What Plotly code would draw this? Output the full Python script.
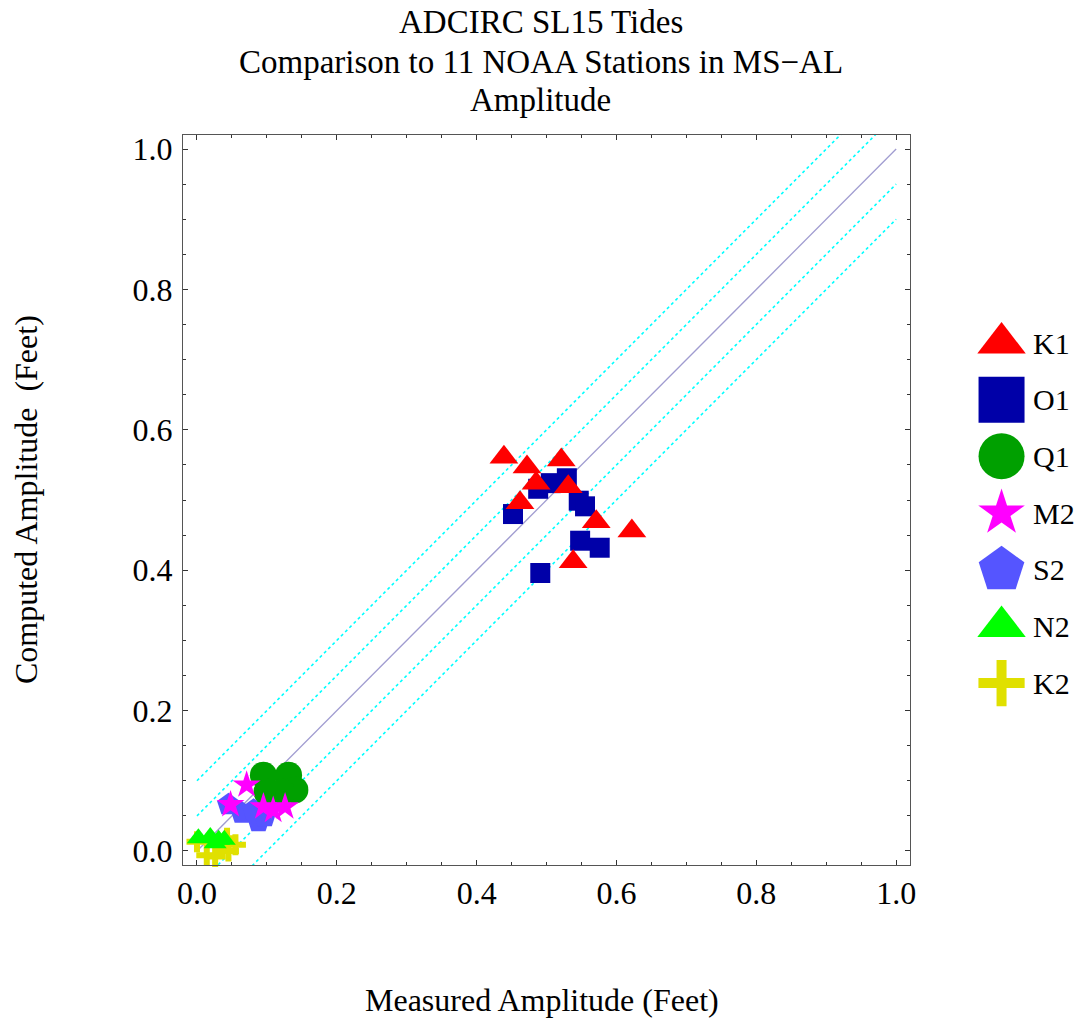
import plotly.graph_objects as go

# ---------------- data ----------------
series_names = ["K1", "O1", "Q1", "M2", "S2", "N2", "K2"]

K1_x = [0.439, 0.472, 0.521, 0.485, 0.531, 0.462, 0.571, 0.622, 0.538]
K1_y = [0.561, 0.547, 0.557, 0.524, 0.519, 0.496, 0.469, 0.456, 0.412]

O1_x = [0.452, 0.488, 0.506, 0.529, 0.546, 0.555, 0.548, 0.576, 0.491]
O1_y = [0.480, 0.516, 0.524, 0.531, 0.499, 0.491, 0.442, 0.432, 0.396]

Q1_x = [0.095, 0.131, 0.140, 0.100, 0.121]
Q1_y = [0.108, 0.108, 0.087, 0.084, 0.084]

M2_x = [0.071, 0.048, 0.109, 0.126, 0.095]
M2_y = [0.094, 0.066, 0.058, 0.063, 0.063]

S2_x = [0.045, 0.064, 0.088, 0.097, 0.081]
S2_y = [0.066, 0.054, 0.042, 0.049, 0.058]

N2_x = [0.002, 0.019, 0.031, 0.026, 0.039]
N2_y = [0.018, 0.020, 0.016, 0.011, 0.016]

K2_x = [0.000, 0.043, 0.055, 0.026, 0.014, 0.045]
K2_y = [0.013, 0.018, 0.009, -0.008, -0.006, 0.000]

ref_x = [0.0, 1.0]
band_offsets = [0.1, 0.05, -0.05, -0.1]

tick_vals = [0.0, 0.2, 0.4, 0.6, 0.8, 1.0]
tick_text = ["0.0", "0.2", "0.4", "0.6", "0.8", "1.0"]

title_lines = ["ADCIRC SL15 Tides", "Comparison to 11 NOAA Stations in MS\u2212AL", "Amplitude"]
x_title = "Measured Amplitude (Feet)"
y_title = "Computed Amplitude  (Feet)"

# ---------------- styles ----------------
FONT = "Liberation Serif, Times New Roman, serif"
colors = {"K1": "#FF0000", "O1": "#0000A8", "Q1": "#00A000", "M2": "#FF00FF",
          "S2": "#5555FF", "N2": "#00FF00", "K2": "#E0E000"}
symbols = {"K1": "triangle-up", "O1": "square", "Q1": "circle", "M2": "star",
           "S2": "pentagon", "N2": "triangle-up", "K2": "cross-thin"}
plot_sizes = {"K1": 25, "O1": 20, "Q1": 27, "M2": 21, "S2": 24, "N2": 20, "K2": 15}
legend_sizes = {"K1": 42, "O1": 46, "Q1": 46, "M2": 35, "S2": 48, "N2": 42, "K2": 33}
cross_widths = {"plot": 6, "legend": 10}

data = {"K1": (K1_x, K1_y), "O1": (O1_x, O1_y), "Q1": (Q1_x, Q1_y),
        "M2": (M2_x, M2_y), "S2": (S2_x, S2_y), "N2": (N2_x, N2_y),
        "K2": (K2_x, K2_y)}


def marker_for(name, size, where):
    if symbols[name] == "cross-thin":
        return dict(symbol="cross-thin", size=size, color=colors[name],
                    line=dict(color=colors[name], width=cross_widths[where]))
    return dict(symbol=symbols[name], size=size, color=colors[name], line=dict(width=0))


fig = go.Figure()

# reference lines
for off in band_offsets:
    fig.add_trace(go.Scatter(x=ref_x, y=[v + off for v in ref_x], mode="lines",
                             line=dict(color="#00FFFF", width=1.6, dash="dot"),
                             hoverinfo="skip", showlegend=False))
fig.add_trace(go.Scatter(x=ref_x, y=ref_x, mode="lines",
                         line=dict(color="#A09CD0", width=1.3),
                         hoverinfo="skip", showlegend=False))

# data series
draw_order = ["K2", "N2", "S2", "Q1", "M2", "O1", "K1"]
for name in draw_order:
    xs, ys = data[name]
    fig.add_trace(go.Scatter(x=xs, y=ys, mode="markers", name=name,
                             marker=marker_for(name, plot_sizes[name], "plot"),
                             showlegend=False, cliponaxis=False))

W, H = 1088, 1023
ML, MR, MT, MB = 183, 0, 135, 158
plot_w = 732
plot_h = H - MT - MB
paper_w = W - ML - MR

# custom legend (large symbols) in a side axis
LEG_LEFT = 984
for i, name in enumerate(series_names):
    fig.add_trace(go.Scatter(x=[1007 - LEG_LEFT], y=[i], mode="markers", xaxis="x2", yaxis="y2",
                             marker=marker_for(name, legend_sizes[name], "legend"),
                             showlegend=False, hoverinfo="skip", cliponaxis=False))
    fig.add_annotation(x=1037 - LEG_LEFT, y=i, xref="x2", yref="y2", text=name, showarrow=False,
                       xanchor="left", yanchor="middle",
                       font=dict(family=FONT, size=30, color="black"))

axis_common = dict(range=[-0.02, 1.02], showgrid=False, zeroline=False,
                   showline=True, linecolor="#555555", linewidth=1, mirror="ticks",
                   ticks="inside", ticklen=5, tickwidth=1, tickcolor="#333333",
                   tickvals=tick_vals, ticktext=tick_text,
                   tickfont=dict(family=FONT, size=32, color="black"),
                   minor=dict(dtick=0.05, tick0=0, ticks="inside", ticklen=3,
                              tickwidth=1, tickcolor="#333333", showgrid=False))

fig.update_layout(
    width=W, height=H,
    margin=dict(l=ML, r=MR, t=MT, b=MB, pad=0),
    paper_bgcolor="white", plot_bgcolor="white",
    showlegend=False,
    xaxis=dict(domain=[0, plot_w / paper_w], ticklabelstandoff=0, **axis_common),
    yaxis=dict(domain=[0, 1], ticklabelstandoff=3, **axis_common),
    xaxis2=dict(domain=[(LEG_LEFT - ML) / paper_w, 1], range=[0, W - LEG_LEFT], visible=False,
                fixedrange=True),
    yaxis2=dict(domain=[0, 1], range=[9.21, -3.67], visible=False, anchor="x2",
                fixedrange=True),
)

# title lines (centred over the plot)
title_centres_px = [22, 62, 100]
for line, py in zip(title_lines, title_centres_px):
    fig.add_annotation(text=line, x=(543 - ML) / paper_w, xref="paper",
                       y=1 + (MT - py) / plot_h, yref="paper", showarrow=False,
                       xanchor="center", yanchor="middle",
                       font=dict(family=FONT, size=33, color="black"))

fig.add_annotation(text=x_title, x=(544 - ML) / paper_w, xref="paper",
                   y=-(1000 - (H - MB)) / plot_h, yref="paper", showarrow=False,
                   xanchor="center", yanchor="middle",
                   font=dict(family=FONT, size=32, color="black"))
fig.add_annotation(text=y_title, x=-(ML - 25) / paper_w, xref="paper", y=0.5, yref="paper",
                   showarrow=False, textangle=-90, xanchor="center", yanchor="middle",
                   font=dict(family=FONT, size=32, color="black"))

fig.write_html("out.html")
